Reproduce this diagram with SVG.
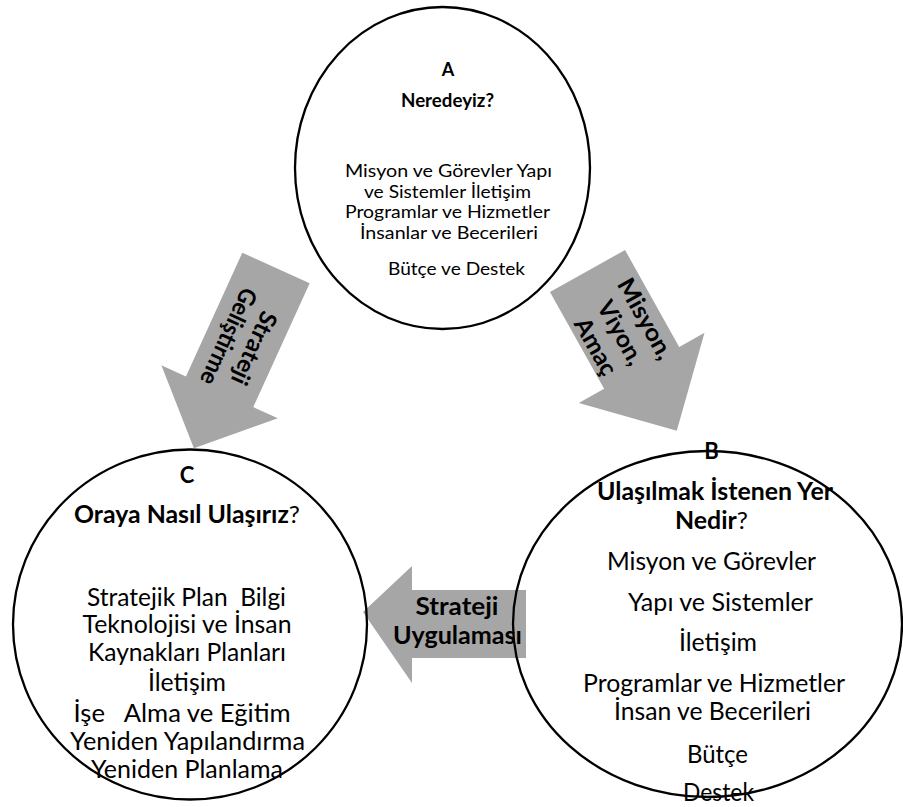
<svg xmlns="http://www.w3.org/2000/svg" width="903" height="807" viewBox="0 0 903 807">
<style>
.arrow{fill:#a6a6a6;stroke:none}
.ring{fill:none;stroke:#000;stroke-width:2.3}
text{font-family:"Lato","Liberation Sans",sans-serif;fill:#000;text-anchor:middle}
.b{font-weight:bold}
.n{font-weight:normal}
.pre{white-space:pre}
.ab{font-size:24px;font-weight:bold}
.ta{font-size:18px}
.tb{font-size:24.5px}
</style>
<g id="connectors">
<g id="arrow-strateji-gelistirme" transform="translate(276,268) rotate(24.5)">
<polygon class="arrow" points="-37,0 37,0 37,136 64,136 0,198 -64,136 -37,136"/>
<g transform="translate(0,82) rotate(90)">
<text class="ab" x="0" y="-5" textLength="78" lengthAdjust="spacingAndGlyphs">Strateji</text>
<text class="ab" x="0" y="23" textLength="104" lengthAdjust="spacingAndGlyphs">Geliştirme</text>
</g>
</g>
<g id="arrow-misyon" transform="translate(587.5,271) rotate(-29.2)">
<polygon class="arrow" points="-43,0 43,0 43,111 72,111 0,183 -72,111 -43,111"/>
<g transform="translate(0,70) rotate(90)">
<text class="ab" x="0" y="-19" textLength="89" lengthAdjust="spacingAndGlyphs">Misyon,</text>
<text class="ab" x="0" y="9.5" textLength="70" lengthAdjust="spacingAndGlyphs">Viyon,</text>
<text class="ab" x="0" y="38" textLength="62" lengthAdjust="spacingAndGlyphs">Amaç</text>
</g>
</g>
<g id="arrow-strateji-uygulamasi">
<polygon class="arrow" points="526,590 412,590 412,566 363,612 412,683 412,658 526,658"/>
<text class="ab" x="457" y="615" textLength="83" lengthAdjust="spacingAndGlyphs">Strateji</text>
<text class="ab" x="457.5" y="644" textLength="129" lengthAdjust="spacingAndGlyphs">Uygulaması</text>
</g>
</g>
<g id="node-a">
<ellipse class="ring" cx="442.5" cy="168" rx="147.5" ry="161"/>
<text class="b" style="font-size:18px" x="448" y="76">A</text>
<text class="b" style="font-size:18.5px" x="447.5" y="107" textLength="93" lengthAdjust="spacingAndGlyphs">Neredeyiz?</text>
<text class="ta" x="448.5" y="177" textLength="207" lengthAdjust="spacingAndGlyphs">Misyon ve Görevler Yapı</text>
<text class="ta" x="447.5" y="197.5" textLength="167" lengthAdjust="spacingAndGlyphs">ve Sistemler İletişim</text>
<text class="ta" x="447.5" y="218" textLength="205" lengthAdjust="spacingAndGlyphs">Programlar ve Hizmetler</text>
<text class="ta" x="449" y="239" textLength="178" lengthAdjust="spacingAndGlyphs">İnsanlar ve Becerileri</text>
<text class="ta" x="456.5" y="275" textLength="137" lengthAdjust="spacingAndGlyphs">Bütçe ve Destek</text>
</g>
<g id="node-b">
<ellipse class="ring" cx="707.5" cy="624" rx="194.5" ry="173"/>
<text class="b" style="font-size:22px" x="711.5" y="459">B</text>
<text class="b" style="font-size:24px" x="715" y="500" textLength="236" lengthAdjust="spacingAndGlyphs">Ulaşılmak İstenen Yer</text>
<text style="font-size:24px" x="711.5" y="529" textLength="73" lengthAdjust="spacingAndGlyphs"><tspan class="b">Nedir</tspan><tspan class="n">?</tspan></text>
<text class="tb" x="711.5" y="570" textLength="209" lengthAdjust="spacingAndGlyphs">Misyon ve Görevler</text>
<text class="tb" x="720.5" y="611" textLength="185" lengthAdjust="spacingAndGlyphs">Yapı ve Sistemler</text>
<text class="tb" x="718" y="651" textLength="78" lengthAdjust="spacingAndGlyphs">İletişim</text>
<text class="tb" x="714" y="692" textLength="262" lengthAdjust="spacingAndGlyphs">Programlar ve Hizmetler</text>
<text class="tb" x="712.5" y="720" textLength="197" lengthAdjust="spacingAndGlyphs">İnsan ve Becerileri</text>
<text class="tb" x="717.5" y="763" textLength="61" lengthAdjust="spacingAndGlyphs">Bütçe</text>
<text class="tb" x="718.5" y="801" textLength="71" lengthAdjust="spacingAndGlyphs">Destek</text>
</g>
<g id="node-c">
<ellipse class="ring" cx="190" cy="624.5" rx="177" ry="175"/>
<text class="b" style="font-size:22px" x="187" y="483">C</text>
<text style="font-size:24px" x="187" y="523" textLength="226" lengthAdjust="spacingAndGlyphs"><tspan class="b">Oraya Nasıl Ulaşırız</tspan><tspan class="n">?</tspan></text>
<text class="tb pre" x="186.5" y="606" textLength="199" lengthAdjust="spacingAndGlyphs">Stratejik Plan  Bilgi</text>
<text class="tb" x="187" y="633" textLength="209" lengthAdjust="spacingAndGlyphs">Teknolojisi ve İnsan</text>
<text class="tb" x="187" y="661" textLength="198" lengthAdjust="spacingAndGlyphs">Kaynakları Planları</text>
<text class="tb" x="187" y="691" textLength="78" lengthAdjust="spacingAndGlyphs">İletişim</text>
<text class="tb pre" x="182" y="722" textLength="217" lengthAdjust="spacingAndGlyphs">İşe   Alma ve Eğitim</text>
<text class="tb" x="187.5" y="750" textLength="235" lengthAdjust="spacingAndGlyphs">Yeniden Yapılandırma</text>
<text class="tb" x="187" y="778" textLength="192" lengthAdjust="spacingAndGlyphs">Yeniden Planlama</text>
</g>
</svg>
